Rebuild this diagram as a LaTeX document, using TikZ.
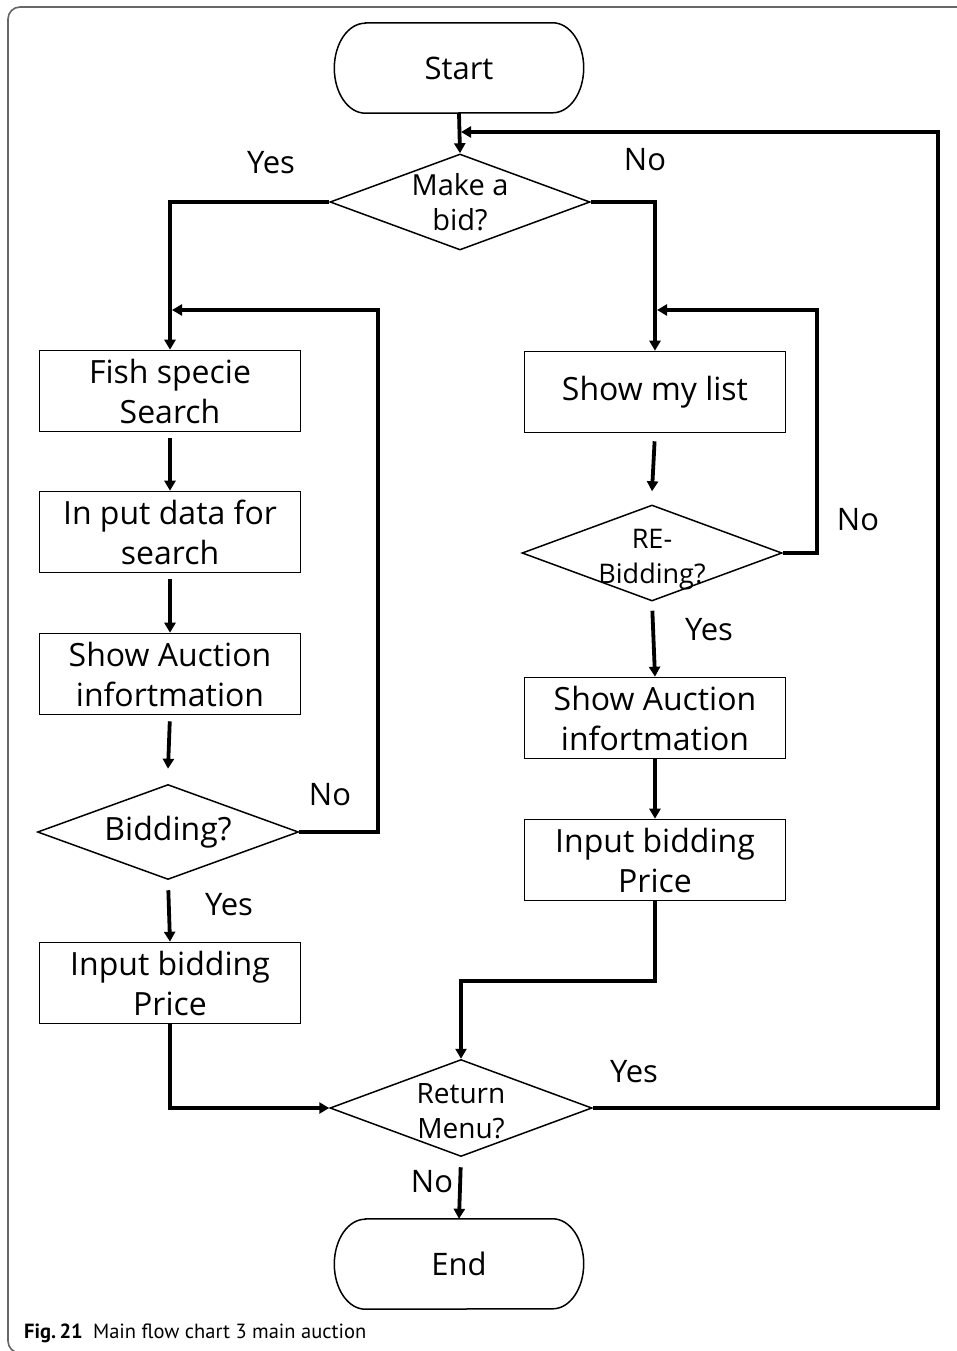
\documentclass[tikz,border=0pt]{standalone}
\usepackage{fontspec}
\setmainfont{Open Sans}
\newfontfamily\capfont{PT Sans}
\usetikzlibrary{arrows.meta,shapes.geometric}
\begin{document}
\begin{tikzpicture}[x=1pt,y=-1pt,
  every node/.style={inner sep=0pt},
  boxtxt/.style={font=\fontsize{32}{40}\selectfont},
  proc/.style={draw,line width=1.6pt,rectangle,minimum width=261pt,minimum height=81pt,align=center,boxtxt},
  dec/.style={draw,line width=1.5pt,diamond,minimum width=260pt,minimum height=96pt},
  dectxt/.style={align=center,font=\fontsize{29}{35}\selectfont},
  termtxt/.style={minimum width=249pt,minimum height=90pt,font=\fontsize{31}{35}\selectfont},
  lbl/.style={font=\fontsize{31}{35}\selectfont},
  conn/.style={line width=3.8pt},
  arr/.style={conn,-{Triangle[length=10pt,width=11pt]}},
]
\useasboundingbox (0,0) rectangle (957,1351);
\begin{scope}
\clip (0,0) rectangle (957,1351);
\draw[gray!80!black,line width=1.6pt,rounded corners=12pt] (975,7) -- (8,7) -- (8,1353) -- (975,1353);
\end{scope}

% terminals
\node[termtxt] (start) at (459,68) {Start};
\draw[line width=1.5pt] ([xshift=31pt]start.north west) -- ([xshift=-31pt]start.north east)
  arc[start angle=90,end angle=-90,x radius=31pt,y radius=45pt]
  -- ([xshift=31pt]start.south west)
  arc[start angle=270,end angle=90,x radius=31pt,y radius=45pt] -- cycle;
\node[termtxt] (end) at (459,1264) {End};
\draw[line width=1.5pt] ([xshift=31pt]end.north west) -- ([xshift=-31pt]end.north east)
  arc[start angle=90,end angle=-90,x radius=31pt,y radius=45pt]
  -- ([xshift=31pt]end.south west)
  arc[start angle=270,end angle=90,x radius=31pt,y radius=45pt] -- cycle;

% decisions
\node[dec,label={[dectxt]center:Make a\\bid?}] (mab) at (460,202) {};
\node[dec,minimum width=261pt,minimum height=95pt,label={[dectxt,font=\fontsize{32}{35}\selectfont]center:Bidding?}] (bid) at (168,832) {};
\node[dec,label={[dectxt,font=\fontsize{27}{35}\selectfont,yshift=-7pt]center:RE-\\Bidding?}] (reb) at (652,553) {};
\node[dec,minimum width=262pt,minimum height=97pt,label={[dectxt,font=\fontsize{28}{35}\selectfont,yshift=-3pt]center:Return\\Menu?}] (rm) at (461,1108) {};

% left column
\node[proc] (fish) at (170,391) {Fish specie\\Search};
\node[proc] (inp) at (170,532) {In put data for\\search};
\node[proc] (auc1) at (170,674) {Show Auction\\infortmation};
\node[proc] (price1) at (170,983) {Input bidding\\Price};

% right column
\node[proc] (list) at (655,392) {Show my list};
\node[proc] (auc2) at (655,718) {Show Auction\\infortmation};
\node[proc] (price2) at (655,860) {Input bidding\\Price};

% junction coordinates
\coordinate (jtop) at (461,132);
\coordinate (rr) at (938,1108);
\coordinate (jl) at (172,310);
\coordinate (bl) at (378,832);
\coordinate (jr) at (657,310);
\coordinate (br) at (817,553);

% connectors
\draw[arr] (start.south) -- (mab.north);
\draw[arr] (rm.east) -- (rr) |- (jtop);
\draw[arr] (mab.west) -| (fish.north);
\draw[arr] (mab.east) -| (list.north);
\draw[arr,shorten <=6pt] (fish.south) -- (inp.north);
\draw[arr,shorten <=6pt] (inp.south) -- (auc1.north);
\draw[arr,shorten <=6pt] (auc1.south) -- ([yshift=15pt]bid.north);
\draw[arr] (bid.east) -- (bl) |- (jl);
\draw[arr,shorten <=10pt] (bid.south) -- (price1.north);
\draw[arr] (price1.south) |- (rm.west);
\draw[arr,shorten <=8pt] (list.south) -- ([yshift=13pt]reb.north);
\draw[arr] (reb.east) -- (br) |- (jr);
\draw[arr,shorten <=9pt] (reb.south) -- (auc2.north);
\draw[arr] (auc2.south) -- (price2.north);
\draw[arr] (price2.south) -- ++(0,80) -| (rm.north);
\draw[arr,shorten <=10pt] (rm.south) -- (end.north);

% labels
\node[lbl] (l1) at (271,163) {Yes};
\node[lbl] (l2) at (645,160) {No};
\node[lbl] (l3) at (330,795) {No};
\node[lbl] (l4) at (229,905) {Yes};
\node[lbl] (l5) at (858,520) {No};
\node[lbl] (l6) at (709,630) {Yes};
\node[lbl] (l7) at (634,1072) {Yes};
\node[lbl] (l8) at (432,1182) {No};

% caption
\node[anchor=base west,font=\capfont\fontsize{20.5}{25}\selectfont] (cap) at (24,1338) {\textbf{Fig.\,21}\hspace{0.5em}Main flow chart 3 main auction};
\end{tikzpicture}
\end{document}
